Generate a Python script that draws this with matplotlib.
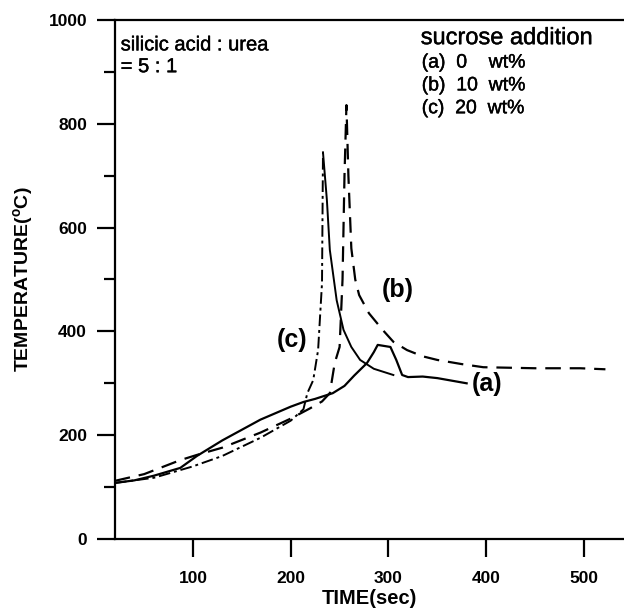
import matplotlib.pyplot as plt
import matplotlib.patheffects as pe
from matplotlib.ticker import MultipleLocator

plt.rcParams['font.family'] = ['Liberation Sans', 'DejaVu Sans']
plt.rcParams['mathtext.fontset'] = 'custom'
plt.rcParams['mathtext.rm'] = 'Liberation Sans'
plt.rcParams['mathtext.bf'] = 'Liberation Sans:bold'

# (a) 0 wt% sucrose - solid
time_a = [20, 40, 60, 87, 104, 130, 169, 200, 213, 225, 243, 255, 265, 278, 285, 289,
          302, 308, 314, 320, 335, 350, 365, 380]
temp_a = [108, 113, 122, 137, 160, 190, 230, 255, 264, 270, 281, 295, 315, 339, 360, 374,
          370, 345, 316, 312, 313, 310, 305, 300]

# (b) 10 wt% sucrose - dashed
time_b = [20, 50, 87, 104, 130, 169, 200, 220, 232, 240, 245, 250, 253, 255, 257, 259,
          262, 266, 270, 280, 294, 305, 319, 335, 350, 375, 397, 450, 496, 522]
temp_b = [112, 125, 152, 162, 176, 205, 232, 252, 265, 281, 339, 370, 500, 700, 836, 700,
          560, 500, 470, 435, 403, 380, 364, 352, 345, 337, 331, 329, 329, 327]

# (c) 20 wt% sucrose - dash-dot rise, solid decay
time_c = [20, 60, 100, 130, 169, 200, 213, 217, 223, 228, 232, 233]
temp_c = [108, 118, 140, 160, 195, 228, 250, 281, 306, 364, 493, 745]
time_c2 = [233, 237, 240, 247, 254, 262, 271, 285, 305]
temp_c2 = [745, 653, 557, 460, 403, 370, 345, 328, 316]

fig = plt.figure(figsize=(6.24, 6.13), dpi=100)
ax = fig.add_axes([0.184, 0.1207, 0.816, 0.8467])

ax.plot(time_a, temp_a, color='black', lw=1.6, solid_joinstyle='round')
ax.plot(time_b, temp_b, color='black', lw=1.6, linestyle=(0, (7, 4)))
ax.plot(time_c, temp_c, color='black', lw=1.4, linestyle=(0, (6, 2, 1.5, 2)))
ax.plot(time_c2, temp_c2, color='black', lw=1.4)

ax.set_xlim(20, 541)
ax.set_ylim(0, 1000)
ax.spines['right'].set_visible(False)
for s in ['left', 'top', 'bottom']:
    ax.spines[s].set_linewidth(1.6)

ax.set_xticks([100, 200, 300, 400, 500])
ax.yaxis.set_major_locator(MultipleLocator(200))
ax.yaxis.set_minor_locator(MultipleLocator(100))
ax.tick_params(axis='both', which='major', direction='out', length=13, width=1.6,
               labelsize=12.5, pad=7)
ax.tick_params(axis='y', which='minor', direction='out', length=8, width=1.6)
ax.tick_params(axis='x', pad=10)
for lbl in ax.get_xticklabels() + ax.get_yticklabels():
    lbl.set_fontweight('bold')

ax.set_xlabel('TIME(sec)', fontsize=14.5, fontweight='bold', labelpad=2)
ax.set_ylabel('TEMPERATURE($\\mathbf{^{o}}$C)', fontsize=14, fontweight='bold', labelpad=10)

# 文字稍微加粗一点（原图是中等粗细）
heavy = [pe.withStroke(linewidth=0.3, foreground='black')]
ax.text(26, 952, 'silicic acid : urea', fontsize=14.5, va='center', path_effects=heavy)
ax.text(26, 910, '= 5 : 1', fontsize=14.5, va='center', path_effects=heavy)
ax.text(333, 965, 'sucrose addition', fontsize=17, va='center', path_effects=heavy)
ax.text(334, 917, '(a)  0    wt%', fontsize=14, va='center', path_effects=heavy)
ax.text(334, 873, '(b)  10  wt%', fontsize=14, va='center', path_effects=heavy)
ax.text(334, 829, '(c)  20  wt%', fontsize=14, va='center', path_effects=heavy)

ax.text(309, 480, '(b)', fontsize=18, fontweight='bold', ha='center', va='center')
ax.text(201, 383, '(c)', fontsize=18, fontweight='bold', ha='center', va='center')
ax.text(401, 299, '(a)', fontsize=18, fontweight='bold', ha='center', va='center')

fig.savefig('out.png', dpi=100)
